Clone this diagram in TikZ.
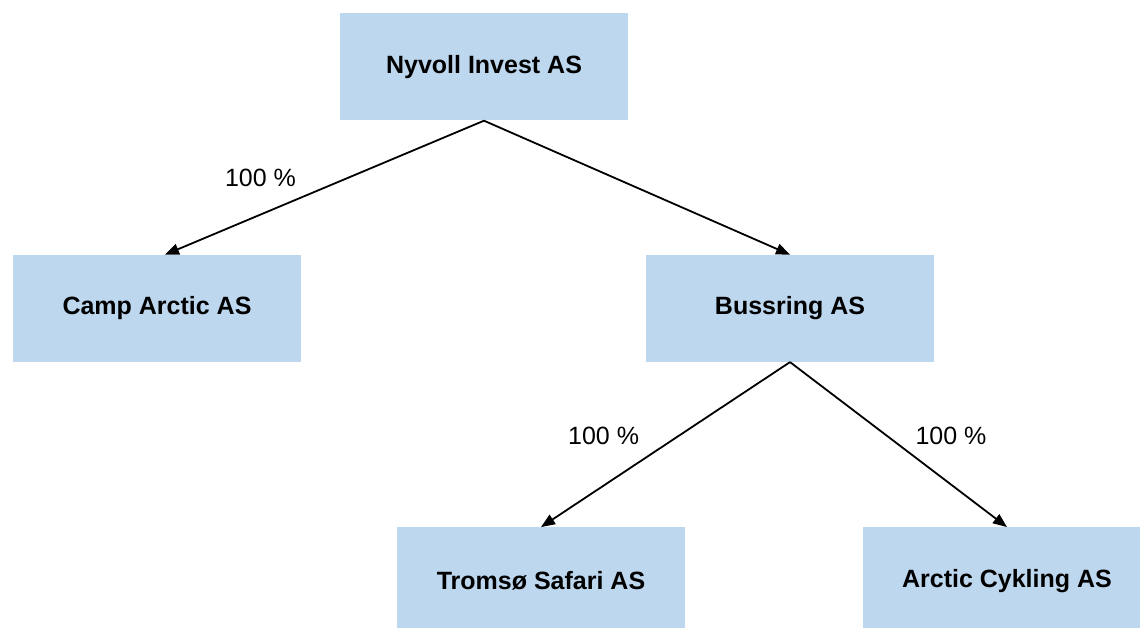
\documentclass[tikz,border=0pt]{standalone}
\usepackage{fontspec}
\setmainfont{Liberation Sans}
\usetikzlibrary{positioning}
\usetikzlibrary{arrows.meta}
\definecolor{firmblue}{RGB}{189,215,238}
\tikzset{firm node/.style={rectangle,fill=firmblue,minimum width=288pt,minimum height=107pt,inner sep=0pt,font=\fontsize{25}{30}\selectfont\bfseries},
         share/.style={inner sep=0pt,font=\fontsize{25}{30}\selectfont},
         own edge/.style={draw,line width=1.8pt,-{Triangle[length=14pt,width=11pt]}}
            }

\begin{document}
\begin{tikzpicture}[x=1pt,y=1pt]
 \useasboundingbox (0,0) rectangle (1140,-628);
 \clip (0,0) rectangle (1140,-628);
 \node[firm node] (nyv) at (484,-67) {Nyvoll Invest AS};
 \node[firm node] (cam)[below=134pt of nyv,xshift=-327pt] {Camp Arctic AS};
 \node[firm node] (bus)[below=134pt of nyv,xshift=306pt] {Bussring AS};
     \node[firm node] (tro)[below=165pt of bus,xshift=-249pt] {Tromsø Safari AS};
     \node[firm node] (arc)[below=165pt of bus,xshift=217pt] {Arctic Cykling AS};

    \path
        (nyv.south)  edge[own edge] node[share,pos=0.43,left=50pt] {100 \%} ([xshift=8pt]cam.north);
    \path
        (nyv.south)  edge[own edge] node {} (bus.north);
    \path
        (bus.south)  edge[own edge] node[share,pos=0.45,left=38pt] {100 \%} (tro.north);
    \path
        (bus.south)  edge[own edge] node[share,pos=0.45,right=27pt] {100 \%} (arc.north);
\end{tikzpicture}
\end{document}
